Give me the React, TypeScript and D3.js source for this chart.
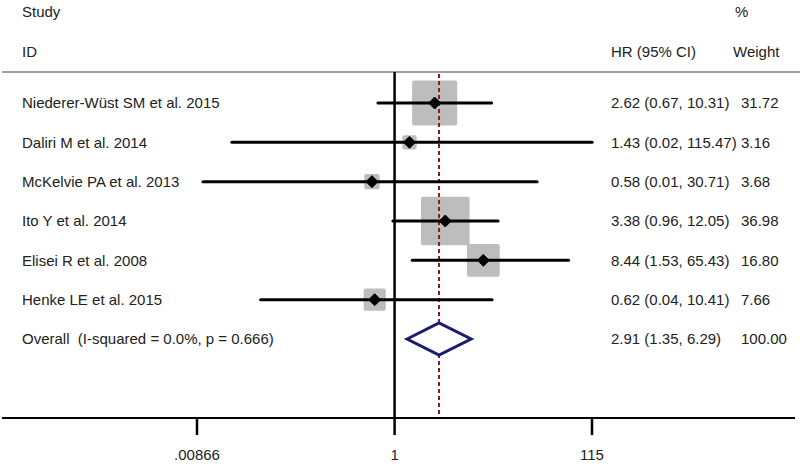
import React, { useEffect, useRef } from 'react';
import * as d3 from 'd3';

const studies = [
  'Niederer-Wüst SM et al. 2015',
  'Daliri M et al. 2014',
  'McKelvie PA et al. 2013',
  'Ito Y et al. 2014',
  'Elisei R et al. 2008',
  'Henke LE et al. 2015',
];
const hr = [2.62, 1.43, 0.58, 3.38, 8.44, 0.62];
const lower = [0.67, 0.02, 0.01, 0.96, 1.53, 0.04];
const upper = [10.31, 115.47, 30.71, 12.05, 65.43, 10.41];
const weights = [31.72, 3.16, 3.68, 36.98, 16.8, 7.66];
const overallLabel = 'Overall  (I-squared = 0.0%, p = 0.666)';
const overall = [2.91, 1.35, 6.29];
const tickValues = [0.00866, 1, 115];
const tickLabels = ['.00866', '1', '115'];

const App = () => {
  const svgRef = useRef<SVGSVGElement>(null);

  useEffect(() => {
    const width = 800;
    const height = 465;
    const svg = d3.select(svgRef.current).attr('width', width).attr('height', height);
    svg.selectAll('*').remove();

    const font = '"Liberation Sans", Arial, sans-serif';
    const textColor = '#222';

    const x = d3.scaleLog().domain([0.00866, 115]).range([197, 592]);
    const y = d3.scaleLinear().domain([0, 6]).range([103, 339]);
    const axisY = 418;
    const topY = 72;

    const fmt = d3.format('.2f');

    const txt = (s: string, tx: number, ty: number) =>
      svg.append('text')
        .attr('x', tx).attr('y', ty).attr('dy', '0.35em')
        .attr('font-family', font).attr('font-size', 15)
        .style('white-space', 'pre')
        .attr('fill', textColor).text(s);

    // headers
    txt('Study', 22, 12);
    txt('ID', 22, 52);
    txt('HR (95% CI)', 611, 52);
    txt('%', 735, 12);
    txt('Weight', 733, 52);

    svg.append('line')
      .attr('x1', 2).attr('x2', 800).attr('y1', topY).attr('y2', topY)
      .attr('stroke', '#a0a0a0').attr('stroke-width', 2);

    // null line at 1
    svg.append('line')
      .attr('x1', x(1)).attr('x2', x(1)).attr('y1', topY).attr('y2', axisY)
      .attr('stroke', '#000').attr('stroke-width', 2.5);

    // weight boxes
    svg.selectAll('rect.box')
      .data(studies)
      .enter()
      .append('rect')
      .attr('class', 'box')
      .attr('x', (_, i) => x(hr[i]) - 4 * Math.sqrt(weights[i]))
      .attr('y', (_, i) => y(i) - 4 * Math.sqrt(weights[i]))
      .attr('width', (_, i) => 8 * Math.sqrt(weights[i]))
      .attr('height', (_, i) => 8 * Math.sqrt(weights[i]))
      .attr('rx', 2)
      .attr('fill', '#bdbdbd');

    // overall effect dashed line
    svg.append('line')
      .attr('x1', x(overall[0])).attr('x2', x(overall[0]))
      .attr('y1', topY + 2).attr('y2', axisY)
      .attr('stroke', '#8b1a1a').attr('stroke-width', 2)
      .attr('stroke-dasharray', '4,3');

    // CI lines
    svg.selectAll('line.ci')
      .data(studies)
      .enter()
      .append('line')
      .attr('class', 'ci')
      .attr('x1', (_, i) => x(lower[i]))
      .attr('x2', (_, i) => x(upper[i]))
      .attr('y1', (_, i) => y(i))
      .attr('y2', (_, i) => y(i))
      .attr('stroke', '#000').attr('stroke-width', 3)
      .attr('stroke-linecap', 'round');

    // point estimates
    svg.selectAll('path.pt')
      .data(studies)
      .enter()
      .append('path')
      .attr('class', 'pt')
      .attr('d', (_, i) => {
        const cx = x(hr[i]);
        const cy = y(i);
        return `M${cx - 6},${cy}L${cx},${cy - 6}L${cx + 6},${cy}L${cx},${cy + 6}Z`;
      })
      .attr('fill', '#000')
      .attr('stroke', '#000').attr('stroke-width', 1).attr('stroke-linejoin', 'round');

    // overall diamond
    const oy = y(6);
    svg.append('path')
      .attr('d', `M${x(overall[1])},${oy}L${x(overall[0])},${oy - 16}L${x(overall[2])},${oy}L${x(overall[0])},${oy + 16}Z`)
      .attr('fill', '#fff')
      .attr('stroke', '#1a1a6e').attr('stroke-width', 3);

    // row labels
    studies.forEach((s, i) => {
      txt(s, 22, y(i));
      txt(`${fmt(hr[i])} (${fmt(lower[i])}, ${fmt(upper[i])})`, 611, y(i));
      txt(fmt(weights[i]), 741, y(i));
    });
    txt(overallLabel, 22, oy);
    txt(`${fmt(overall[0])} (${fmt(overall[1])}, ${fmt(overall[2])})`, 611, oy);
    txt('100.00', 741, oy);

    // axis
    svg.append('line')
      .attr('x1', 2).attr('x2', 795).attr('y1', axisY).attr('y2', axisY)
      .attr('stroke', '#000').attr('stroke-width', 2);
    svg.selectAll('line.tick')
      .data(tickValues)
      .enter()
      .append('line')
      .attr('class', 'tick')
      .attr('x1', d => x(d)).attr('x2', d => x(d))
      .attr('y1', axisY).attr('y2', axisY + 17)
      .attr('stroke', '#000').attr('stroke-width', 2.5);
    tickValues.forEach((d, i) => {
      txt(tickLabels[i], x(d), 455).attr('text-anchor', 'middle');
    });
  }, []);

  return (
    <svg ref={svgRef} style={{ position: 'absolute', left: 0, top: 0, background: '#fff' }}></svg>
  );
};

export default App;
